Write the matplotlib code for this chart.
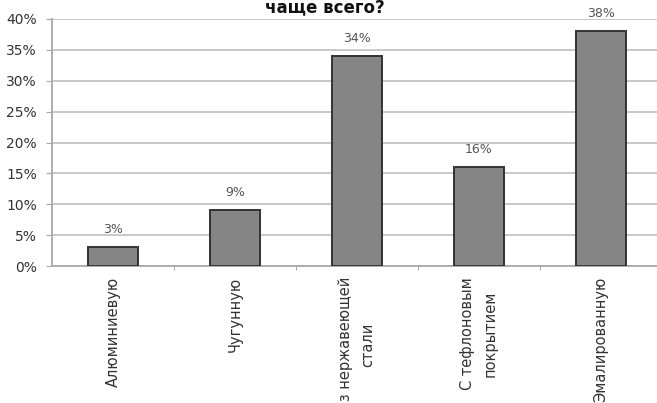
import numpy as np
import matplotlib
matplotlib.use("Agg")
import matplotlib.pyplot as plt
from matplotlib.ticker import MultipleLocator, FuncFormatter

# data
categories = ["Алюминиевую", "Чугунную", "Из нержавеющей\nстали",
              "С тефлоновым\nпокрытием", "Эмалированную"]
values = [3, 9, 34, 16, 38]
title = "чаще всего?"

plt.rcParams['font.family'] = ['DejaVu Sans']

fig = plt.figure(figsize=(6.57, 4.03), dpi=100)
# axes run a little past the right edge, as in the cropped original
ax = fig.add_axes([52/657, 137/403, 610/657, 247/403])

x = np.arange(len(categories))
ax.bar(x, values, width=0.41, color="#858585", edgecolor="#333333", linewidth=1.4, zorder=3)

for xi, v in zip(x, values):
    ax.annotate(f"{v}%", (xi, v), xytext=(0, 8), textcoords="offset points",
                ha="center", va="bottom", fontsize=9, color="#555555")

ax.set_xlim(-0.5, len(categories) - 0.5)
ax.set_ylim(0, 40)
ax.yaxis.set_major_locator(MultipleLocator(5))
ax.yaxis.set_major_formatter(FuncFormatter(lambda v, p: f"{v:.0f}%"))
ax.grid(axis="y", color="#c4c4c4", linewidth=1.3, zorder=0)

for s in ["top", "right"]:
    ax.spines[s].set_visible(False)
for s in ["left", "bottom"]:
    ax.spines[s].set_color("#a8a8a8")
    ax.spines[s].set_linewidth(1.3)

ax.tick_params(axis="y", length=4, color="#a8a8a8", labelsize=10, labelcolor="#333333", pad=7)
# x ticks sit between categories, labels go on the centres
ax.set_xticks(x[:-1] + 0.5)
ax.set_xticklabels([])
ax.tick_params(axis="x", length=3, color="#a8a8a8")
for xi, lab in zip(x, categories):
    ax.text(xi, -0.045, lab, transform=ax.get_xaxis_transform(), rotation=90,
            ha="center", va="top", multialignment="center", fontsize=10.5,
            color="#333333", linespacing=1.6)

fig.text(325/657, 1 - 12/403, title, ha="center", va="baseline",
         fontsize=12, fontweight="bold", color="#111111")

fig.savefig("out.png", dpi=100)
